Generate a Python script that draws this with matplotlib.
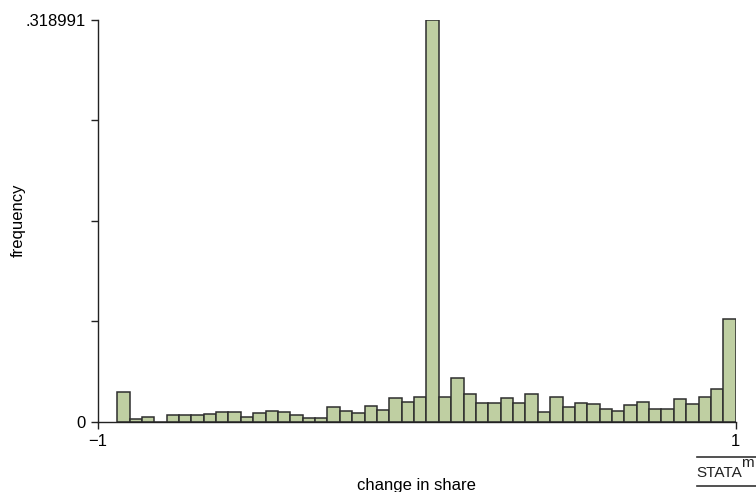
import matplotlib
matplotlib.use("Agg")
import matplotlib.pyplot as plt
from matplotlib.lines import Line2D
import numpy as np

plt.rcParams['font.family'] = ['Liberation Sans Narrow', 'Liberation Sans', 'DejaVu Sans']

# Data
bin_start = -0.94
bin_width = 0.0388
frequencies = [
    0.0232, 0.0018, 0.0033, 0.0, 0.0054, 0.0054, 0.0054, 0.0060, 0.0078, 0.0078,
    0.0036, 0.0067, 0.0081, 0.0078, 0.0048, 0.0030, 0.0030, 0.0117, 0.0081, 0.0065,
    0.0125, 0.0090, 0.0188, 0.0152, 0.0196, 0.318991, 0.0196, 0.0345, 0.0218, 0.0144,
    0.0144, 0.0184, 0.0149, 0.0221, 0.0078, 0.0197, 0.0117, 0.0144, 0.0136, 0.0097,
    0.0081, 0.0129, 0.0155, 0.0102, 0.0102, 0.0181, 0.0139, 0.0192, 0.0256, 0.0811,
]
ymax = 0.318991
x_ticks = [-1, 1]
x_tick_labels = ["\u22121", "1"]
y_ticks = [0, ymax]
y_tick_labels = ["0", ".318991"]
y_minor = [ymax * 0.25, ymax * 0.5, ymax * 0.75]

W, H = 756, 492
fig = plt.figure(figsize=(W / 100, H / 100), dpi=100)
left, right = 98 / W, 735.7 / W
bottom, top = 1 - 421.5 / H, 1 - 19.5 / H
ax = fig.add_axes([left, bottom, right - left, top - bottom])

lefts = bin_start + bin_width * np.arange(len(frequencies))
ax.bar(lefts, frequencies, width=bin_width, align='edge',
       color='#bfcfa2', edgecolor='#2e2e2e', linewidth=1.1, zorder=2)

ax.set_xlim(-1, 1)
ax.set_ylim(0, ymax)
ax.spines['top'].set_visible(False)
ax.spines['right'].set_visible(False)
for s in ('left', 'bottom'):
    ax.spines[s].set_linewidth(1.0)
    ax.spines[s].set_color('#222222')
ax.spines['bottom'].set_zorder(3)

ax.set_xticks(x_ticks)
ax.set_xticklabels(x_tick_labels)
ax.set_yticks(y_ticks)
ax.set_yticklabels(y_tick_labels)
ax.set_yticks(y_minor, minor=True)
ax.tick_params(axis='both', which='major', direction='out', length=5, width=1.0,
               labelsize=12, color='#222222', pad=4)
ax.tick_params(axis='y', which='minor', direction='out', length=5, width=1.0, color='#222222')
ax.tick_params(axis='x', which='minor', length=0)

ax.set_xlabel("change in share", fontsize=12, labelpad=21)
fig.text(18 / W, 1 - 220 / H, "frequency", fontsize=12, rotation=90,
         ha='center', va='center')

# Stata logo
fig.add_artist(Line2D([697 / W, 756 / W], [1 - 457 / H, 1 - 457 / H],
                      color='#333333', linewidth=1.2, transform=fig.transFigure))
fig.add_artist(Line2D([697 / W, 756 / W], [1 - 486 / H, 1 - 486 / H],
                      color='#333333', linewidth=1.2, transform=fig.transFigure))
fig.text(719 / W, 1 - 473 / H, "STATA", fontsize=11, ha='center', va='center', color='#222222')
fig.text(747 / W, 1 - 463 / H, "m", fontsize=11, ha='center', va='center', color='#222222')

fig.savefig("out.png", dpi=100, facecolor='white')
